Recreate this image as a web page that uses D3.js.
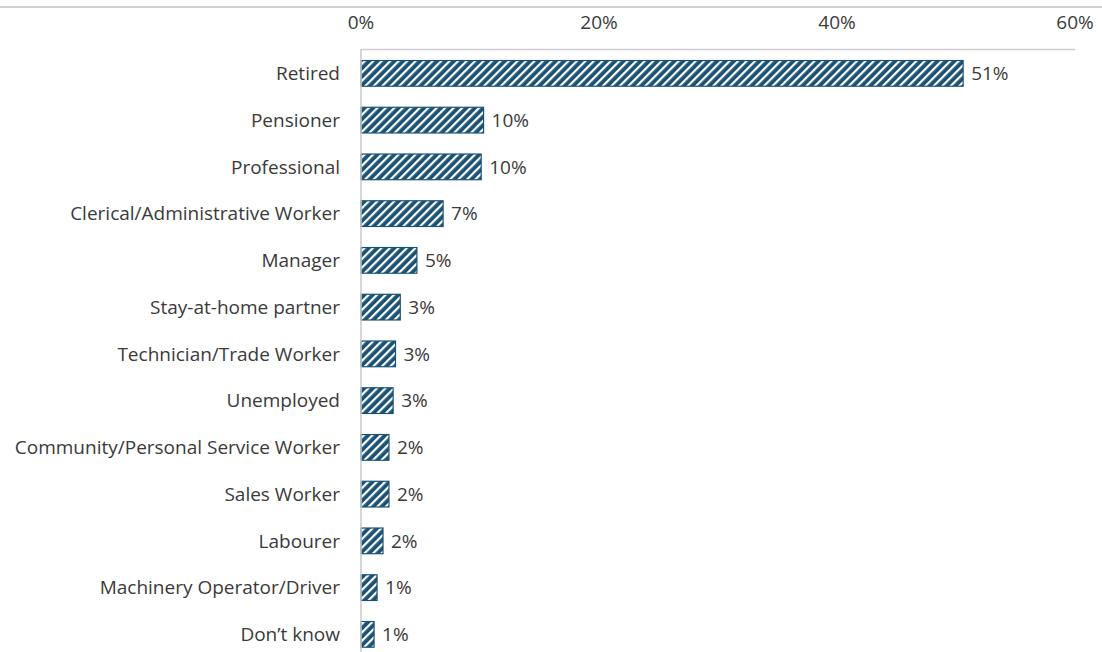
<!DOCTYPE html>
<html>
<head>
<meta charset="utf-8">
<script src="https://cdn.jsdelivr.net/npm/d3@7"></script>
<style>
body { margin: 0; background: #fff; }
text { font-family: "Open Sans", sans-serif; fill: #3a3a3a; }
</style>
</head>
<body>
<script>
var w = 1102;
var h = 652;

var categories = ["Retired", "Pensioner", "Professional", "Clerical/Administrative Worker",
    "Manager", "Stay-at-home partner", "Technician/Trade Worker", "Unemployed",
    "Community/Personal Service Worker", "Sales Worker", "Labourer",
    "Machinery Operator/Driver", "Don\u2019t know"];
var values = [50.6, 10.3, 10.1, 6.9, 4.7, 3.3, 2.9, 2.7, 2.35, 2.35, 1.85, 1.35, 1.1];
var valueLabels = ["51%", "10%", "10%", "7%", "5%", "3%", "3%", "3%", "2%", "2%", "2%", "1%", "1%"];
var tickValues = [0, 20, 40, 60];

var margin = { top: 49, left: 361, right: 27 };
var fontSize = "19px";

var svg = d3.select("body")
    .append("svg")
    .attr("width", w)
    .attr("height", h);

// striped fill
var defs = svg.append("defs");
var pat = defs.append("pattern")
    .attr("id", "stripes")
    .attr("patternUnits", "userSpaceOnUse")
    .attr("width", 6)
    .attr("height", 6)
    .attr("patternTransform", "rotate(45)");
pat.append("rect").attr("width", 6).attr("height", 6).attr("fill", "#1a5276");
pat.append("rect").attr("x", 0).attr("width", 2.2).attr("height", 6).attr("fill", "#ffffff");

var x = d3.scaleLinear()
    .domain([0, 60])
    .range([margin.left, w - margin.right]);

var y = d3.scaleBand()
    .domain(categories)
    .range([margin.top + 1, margin.top + 1 + 46.75 * categories.length])
    .paddingInner(0.45)
    .paddingOuter(0.225);

// top thin rule
svg.append("line")
    .attr("x1", 0).attr("x2", w)
    .attr("y1", 7).attr("y2", 7)
    .attr("stroke", "#d0d0d0")
    .attr("stroke-width", 2);

// plot frame top
svg.append("line")
    .attr("x1", x(0)).attr("x2", x(60))
    .attr("y1", margin.top + 0.5).attr("y2", margin.top + 0.5)
    .attr("stroke", "#d0d0d0")
    .attr("stroke-width", 1.5);

// top axis labels
svg.selectAll(".tick-label")
    .data(tickValues)
    .enter()
    .append("text")
    .attr("class", "tick-label")
    .attr("x", function(d){ return x(d); })
    .attr("y", 29)
    .attr("text-anchor", "middle")
    .style("font-size", fontSize)
    .text(function(d){ return d + "%"; });

// bars
svg.selectAll(".bar")
    .data(values)
    .enter()
    .append("rect")
    .attr("class", "bar")
    .attr("x", x(0))
    .attr("y", function(d, i){ return y(categories[i]); })
    .attr("width", function(d){ return x(d) - x(0); })
    .attr("height", y.bandwidth())
    .attr("fill", "url(#stripes)")
    .attr("stroke", "#1a5276")
    .attr("stroke-width", 1.2);

// value labels
svg.selectAll(".val")
    .data(values)
    .enter()
    .append("text")
    .attr("class", "val")
    .attr("x", function(d){ return x(d) + 8; })
    .attr("y", function(d, i){ return y(categories[i]) + y.bandwidth() / 2; })
    .attr("dy", "0.36em")
    .style("font-size", fontSize)
    .text(function(d, i){ return valueLabels[i]; });

// category labels
svg.selectAll(".cat")
    .data(categories)
    .enter()
    .append("text")
    .attr("class", "cat")
    .attr("x", margin.left - 21)
    .attr("y", function(d){ return y(d) + y.bandwidth() / 2; })
    .attr("dy", "0.36em")
    .attr("text-anchor", "end")
    .style("font-size", fontSize)
    .text(function(d){ return d; });

// left axis line
svg.append("line")
    .attr("x1", x(0)).attr("x2", x(0))
    .attr("y1", margin.top).attr("y2", h)
    .attr("stroke", "#c8c8c8")
    .attr("stroke-width", 1.5);
</script>
</body>
</html>
